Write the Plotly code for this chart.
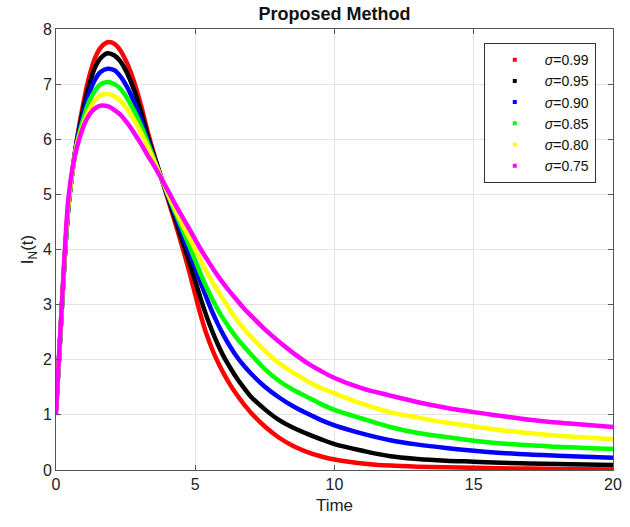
import plotly.graph_objects as go

# Time grid
t = [0, 0.1, 0.2, 0.3, 0.45, 0.6, 0.75, 1.0, 1.2, 1.4, 1.6, 1.85, 2.1, 2.3, 2.55, 2.8,
     3.05, 3.3, 3.55, 3.8, 4.05, 4.3, 4.55, 4.8, 5.0, 5.2, 5.4, 5.6, 5.8, 6.0, 6.25,
     6.5, 6.75, 7.0, 7.5, 8.0, 8.5, 9.0, 9.5, 10, 11, 12, 13, 14, 15, 16, 17, 18, 19, 20]

s099 = [1.1, 1.95, 2.85, 3.75, 4.8, 5.45, 6.0, 6.7, 7.15, 7.47, 7.66, 7.76, 7.73, 7.62, 7.38, 7.05,
        6.62, 6.12, 5.68, 5.27, 4.86, 4.45, 4.02, 3.57, 3.18, 2.8, 2.47, 2.2, 1.97, 1.77, 1.55,
        1.36, 1.19, 1.04, 0.79, 0.59, 0.44, 0.33, 0.25, 0.19, 0.12, 0.08, 0.06, 0.05, 0.04, 0.03,
        0.025, 0.02, 0.015, 0.01]
s095 = [1.1, 1.95, 2.85, 3.75, 4.8, 5.45, 5.97, 6.6, 7.0, 7.3, 7.47, 7.56, 7.52, 7.42, 7.2, 6.9,
        6.5, 6.05, 5.65, 5.27, 4.9, 4.52, 4.13, 3.75, 3.43, 3.1, 2.8, 2.53, 2.29, 2.08, 1.86,
        1.66, 1.49, 1.33, 1.1, 0.91, 0.77, 0.66, 0.56, 0.47, 0.35, 0.25, 0.2, 0.17, 0.15, 0.13,
        0.12, 0.11, 0.1, 0.09]
s090 = [1.1, 1.95, 2.85, 3.75, 4.8, 5.45, 5.95, 6.5, 6.85, 7.08, 7.22, 7.28, 7.25, 7.15, 6.95, 6.68,
        6.35, 5.98, 5.62, 5.27, 4.93, 4.6, 4.25, 3.92, 3.66, 3.39, 3.13, 2.88, 2.66, 2.46, 2.24,
        2.05, 1.89, 1.75, 1.51, 1.32, 1.16, 1.03, 0.91, 0.81, 0.66, 0.54, 0.46, 0.4, 0.35, 0.31,
        0.28, 0.26, 0.24, 0.22]
s085 = [1.1, 1.95, 2.85, 3.75, 4.82, 5.45, 5.92, 6.4, 6.7, 6.88, 7.0, 7.04, 7.0, 6.92, 6.75, 6.52,
        6.25, 5.93, 5.6, 5.27, 4.95, 4.65, 4.35, 4.05, 3.8, 3.55, 3.32, 3.11, 2.92, 2.75, 2.56,
        2.39, 2.24, 2.1, 1.83, 1.62, 1.46, 1.33, 1.2, 1.09, 0.93, 0.78, 0.67, 0.6, 0.53, 0.48,
        0.45, 0.42, 0.4, 0.38]
s080 = [1.1, 1.97, 2.87, 3.8, 4.85, 5.45, 5.9, 6.3, 6.55, 6.7, 6.8, 6.82, 6.78, 6.7, 6.55, 6.36,
        6.12, 5.86, 5.57, 5.27, 4.98, 4.7, 4.44, 4.2, 4.0, 3.8, 3.6, 3.42, 3.26, 3.1, 2.9,
        2.72, 2.56, 2.42, 2.16, 1.94, 1.77, 1.62, 1.49, 1.39, 1.2, 1.05, 0.95, 0.86, 0.79, 0.72,
        0.67, 0.62, 0.59, 0.56]
s075 = [1.0, 2.0, 2.9, 3.85, 4.95, 5.5, 5.85, 6.25, 6.45, 6.56, 6.61, 6.6, 6.53, 6.45, 6.3, 6.12,
        5.92, 5.7, 5.5, 5.27, 5.04, 4.8, 4.58, 4.36, 4.18, 4.0, 3.84, 3.68, 3.53, 3.39, 3.23,
        3.08, 2.93, 2.8, 2.55, 2.33, 2.13, 1.95, 1.8, 1.67, 1.48, 1.35, 1.23, 1.13, 1.05, 0.98,
        0.91, 0.86, 0.82, 0.78]

labels = ["<i>σ</i>=0.99", "<i>σ</i>=0.95", "<i>σ</i>=0.90",
          "<i>σ</i>=0.85", "<i>σ</i>=0.80", "<i>σ</i>=0.75"]
series = [s099, s095, s090, s085, s080, s075]
colors = ["#ff0000", "#000000", "#0000ff", "#00ff00", "#ffff00", "#ff00ff"]

x_ticks = [0, 5, 10, 15, 20]
y_ticks = [0, 1, 2, 3, 4, 5, 6, 7, 8]

fig = go.Figure()
for lab, ys, c in zip(labels, series, colors):
    fig.add_trace(go.Scatter(x=t, y=ys, mode="lines", showlegend=False,
                             line=dict(color=c, width=4.5, shape="spline", smoothing=1.0)))
for lab, c in zip(labels, colors):
    fig.add_trace(go.Scatter(x=[None], y=[None], mode="markers", name=lab,
                             marker=dict(color=c, size=4, symbol="square")))

axis_common = dict(showline=True, linecolor="#555555", linewidth=1, mirror="ticks",
                   ticks="inside", ticklen=5, tickcolor="#555555", automargin=False,
                   showgrid=True, gridcolor="#e3e3e3", gridwidth=1, zeroline=False,
                   tickfont=dict(family="Liberation Sans", size=16, color="#222222"))

fig.update_layout(
    width=630, height=527,
    margin=dict(l=56, r=17, t=29, b=57),
    paper_bgcolor="white", plot_bgcolor="white",
    title=dict(text="<b>Proposed Method</b>", x=0.5, xref="paper", xanchor="center",
               y=1 - 14 / 527, yanchor="middle",
               font=dict(family="Liberation Sans", size=18, color="#111111")),
    xaxis=dict(range=[0, 20], tickvals=x_ticks, **axis_common,
               title=dict(text="Time", standoff=6,
                          font=dict(family="Liberation Sans", size=17, color="#222222"))),
    yaxis=dict(range=[0, 8], tickvals=y_ticks, **axis_common,
               title=dict(text="I<sub>N</sub>(t)", standoff=4,
                          font=dict(family="Liberation Sans", size=17, color="#222222"))),
    legend=dict(x=0.768, y=0.968, xanchor="left", yanchor="top",
                bgcolor="white", bordercolor="#333333", borderwidth=1,
                itemwidth=50, font=dict(family="Liberation Sans", size=14, color="#111111")),
)

fig.write_html("out.html")
